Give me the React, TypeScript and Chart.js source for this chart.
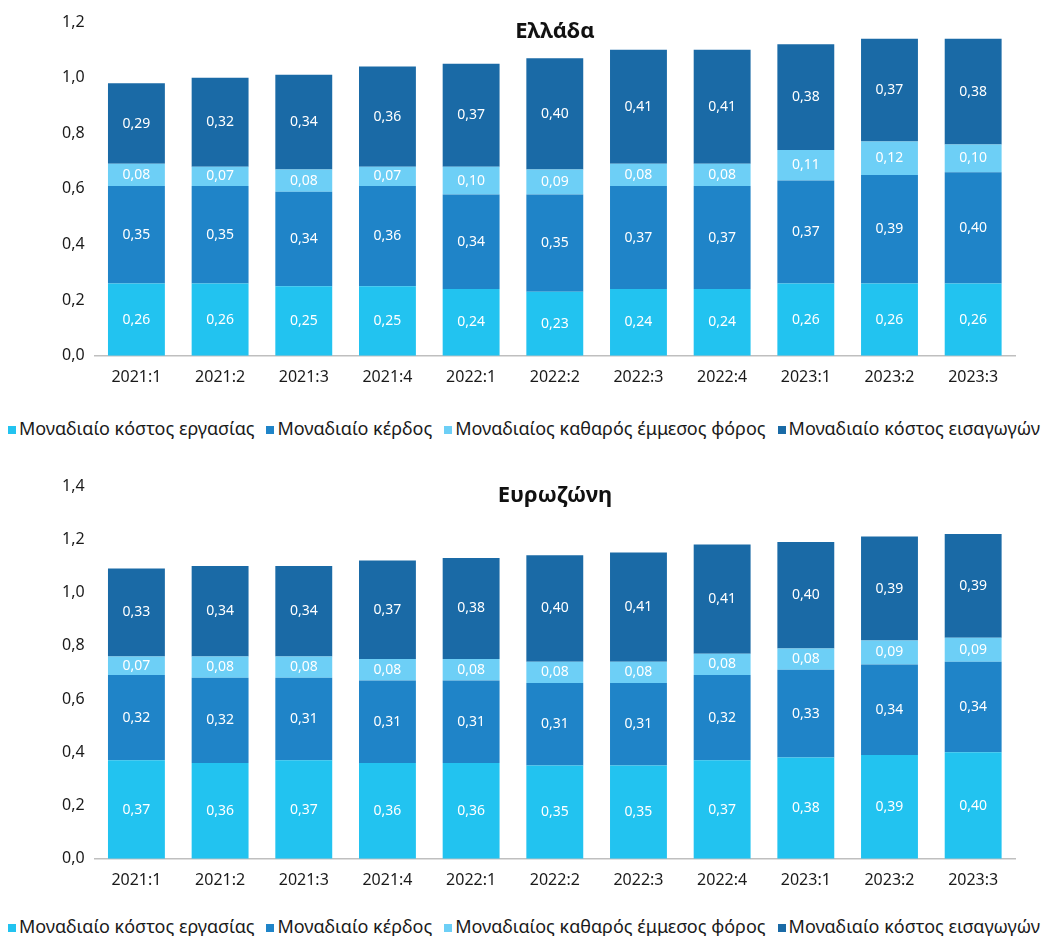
import { useEffect, useRef } from 'react';
import { Chart, registerables } from 'chart.js';

Chart.register(...registerables);

const quarters = ['2021:1', '2021:2', '2021:3', '2021:4', '2022:1', '2022:2', '2022:3', '2022:4', '2023:1', '2023:2', '2023:3'];
const seriesNames = ['Μοναδιαίο κόστος εργασίας', 'Μοναδιαίο κέρδος', 'Μοναδιαίος καθαρός έμμεσος φόρος', 'Μοναδιαίο κόστος εισαγωγών'];
const colors = ['#22c3f0', '#1f84c8', '#6dcff6', '#1a6aa6'];

const grLabour = [0.26, 0.26, 0.25, 0.25, 0.24, 0.23, 0.24, 0.24, 0.26, 0.26, 0.26];
const grProfit = [0.35, 0.35, 0.34, 0.36, 0.34, 0.35, 0.37, 0.37, 0.37, 0.39, 0.40];
const grTax = [0.08, 0.07, 0.08, 0.07, 0.10, 0.09, 0.08, 0.08, 0.11, 0.12, 0.10];
const grImports = [0.29, 0.32, 0.34, 0.36, 0.37, 0.40, 0.41, 0.41, 0.38, 0.37, 0.38];

const ezLabour = [0.37, 0.36, 0.37, 0.36, 0.36, 0.35, 0.35, 0.37, 0.38, 0.39, 0.40];
const ezProfit = [0.32, 0.32, 0.31, 0.31, 0.31, 0.31, 0.31, 0.32, 0.33, 0.34, 0.34];
const ezTax = [0.07, 0.08, 0.08, 0.08, 0.08, 0.08, 0.08, 0.08, 0.08, 0.09, 0.09];
const ezImports = [0.33, 0.34, 0.34, 0.37, 0.38, 0.40, 0.41, 0.41, 0.40, 0.39, 0.39];

const font = "'Noto Sans', 'Open Sans', sans-serif";

const valueLabels = {
  id: 'valueLabels',
  afterDatasetsDraw(chart: Chart) {
    const ctx = chart.ctx;
    ctx.save();
    ctx.fillStyle = '#ffffff';
    ctx.font = `14px ${font}`;
    ctx.textAlign = 'center';
    ctx.textBaseline = 'middle';
    chart.data.datasets.forEach((ds, i) => {
      chart.getDatasetMeta(i).data.forEach((bar: any, j) => {
        const v = ds.data[j] as number;
        const y = (bar.y + bar.base) / 2;
        ctx.fillText(v.toFixed(2).replace('.', ','), bar.x, y);
      });
    });
    ctx.restore();
  },
};

function StackChart({ title, series, max, height, titleTop }: { title: string; series: number[][]; max: number; height: number; titleTop: number }) {
  const canvasRef = useRef<HTMLCanvasElement>(null);
  useEffect(() => {
    if (!canvasRef.current) return;
    const chart = new Chart(canvasRef.current, {
      type: 'bar',
      data: {
        labels: quarters,
        datasets: series.map((d, i) => ({
          label: seriesNames[i],
          data: d,
          backgroundColor: colors[i],
          barPercentage: 0.68,
          categoryPercentage: 1,
        })),
      },
      options: {
        animation: false,
        responsive: true,
        maintainAspectRatio: false,
        layout: { padding: { top: 22, left: 52, right: 45, bottom: 0 } },
        plugins: { legend: { display: false }, tooltip: { enabled: false } },
        scales: {
          x: {
            stacked: true,
            grid: { display: false, drawTicks: false },
            border: { color: '#bfbfbf', width: 1.5 },
            ticks: { color: '#1a1a1a', font: { family: font, size: 16 }, padding: 12 },
          },
          y: {
            stacked: true,
            min: 0,
            max,
            grid: { display: false, drawTicks: false },
            border: { display: false },
            ticks: {
              stepSize: 0.2,
              color: '#1a1a1a',
              padding: 10,
              font: { family: font, size: 16 },
              callback: (v) => Number(v).toFixed(1).replace('.', ','),
            },
          },
        },
      },
      plugins: [valueLabels],
    });
    return () => chart.destroy();
  }, []);
  return (
    <div style={{ position: 'relative', height }}>
      <canvas ref={canvasRef} />
      <div style={{ position: 'absolute', top: titleTop, left: 95, right: 45, textAlign: 'center', fontFamily: font, fontWeight: 'bold', fontSize: 22, color: '#111' }}>
        {title}
      </div>
    </div>
  );
}

function Legend() {
  return (
    <div style={{ whiteSpace: 'nowrap', overflow: 'hidden', fontFamily: font, fontSize: 18, color: '#1a1a1a', paddingLeft: 8, height: 40, lineHeight: '24px' }}>
      {seriesNames.map((n, i) => (
        <span key={n} style={{ marginRight: 12 }}>
          <span style={{ display: 'inline-block', width: 8, height: 8, background: colors[i], marginRight: 3, verticalAlign: 'middle' }} />
          {n}
        </span>
      ))}
    </div>
  );
}

export default function App() {
  return (
    <div style={{ width: 1060, height: 944, overflow: 'hidden', background: '#fff', margin: -8 }}>
      <StackChart title="Ελλάδα" series={[grLabour, grProfit, grTax, grImports]} max={1.2} height={399} titleTop={14} />
      <div style={{ height: 17 }} />
      <Legend />
      <div style={{ height: 8 }} />
      <StackChart title="Ευρωζώνη" series={[ezLabour, ezProfit, ezTax, ezImports]} max={1.4} height={438} titleTop={14} />
      <div style={{ height: 12 }} />
      <Legend />
    </div>
  );
}
